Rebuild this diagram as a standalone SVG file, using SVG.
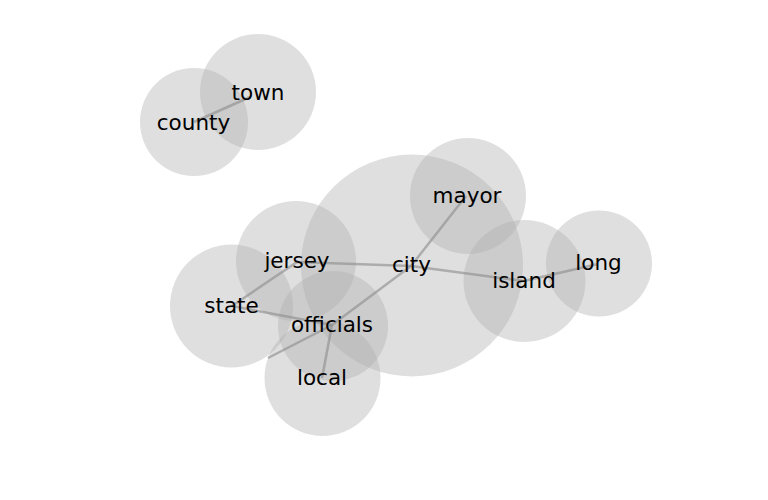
<svg xmlns="http://www.w3.org/2000/svg" width="768" height="500" viewBox="0 0 768 500">
<style>
.n circle{fill:#b0b0b0;fill-opacity:0.4}
.n text{font-family:"DejaVu Sans",sans-serif;font-size:21.5px;fill:#000;text-anchor:middle}
.e line{stroke:#8a8a8a;stroke-opacity:0.6;stroke-width:2.5}
</style>
<rect width="768" height="500" fill="#fff"/>
<g id="circles" class="n">
<circle id="c-town" cx="258" cy="92" r="58"/>
<circle id="c-county" cx="194" cy="122" r="54"/>
<circle id="c-city" cx="412" cy="265.5" r="111"/>
<circle id="c-mayor" cx="468" cy="196" r="58"/>
<circle id="c-island" cx="524.5" cy="281" r="61"/>
<circle id="c-long" cx="599" cy="263.5" r="53"/>
<circle id="c-jersey" cx="296" cy="261" r="60"/>
<circle id="c-state" cx="231.5" cy="306" r="61.5"/>
<circle id="c-local" cx="322.5" cy="378" r="58"/>
<circle id="c-officials" cx="333" cy="326" r="55"/>
</g>
<g id="connectors" class="e">
<line x1="194" y1="122" x2="250" y2="97"/>
<line x1="297" y1="262" x2="411" y2="266"/>
<line x1="411" y1="266" x2="466" y2="196"/>
<line x1="411" y1="266" x2="524" y2="281"/>
<line x1="524" y1="281" x2="598" y2="264"/>
<line x1="297" y1="262" x2="232" y2="306"/>
<line x1="232" y1="306" x2="332" y2="325"/>
<line x1="332" y1="325" x2="411" y2="266"/>
<line x1="332" y1="325" x2="322" y2="378"/>
<line x1="332" y1="325" x2="268" y2="358" stroke-opacity="0.4"/>
</g>
<g id="node-town" class="n"><text x="258" y="100">town</text></g>
<g id="node-county" class="n"><text x="193.5" y="129.5">county</text></g>
<g id="node-mayor" class="n"><text x="467" y="203">mayor</text></g>
<g id="node-island" class="n"><text x="524" y="288">island</text></g>
<g id="node-long" class="n"><text x="598.5" y="270">long</text></g>
<g id="node-city" class="n"><text x="411.5" y="272">city</text></g>
<g id="node-jersey" class="n"><text x="297" y="268">jersey</text></g>
<g id="node-state" class="n"><text x="231.5" y="313">state</text></g>
<g id="node-officials" class="n"><text x="332" y="332">officials</text></g>
<g id="node-local" class="n"><text x="322" y="385">local</text></g>
</svg>
